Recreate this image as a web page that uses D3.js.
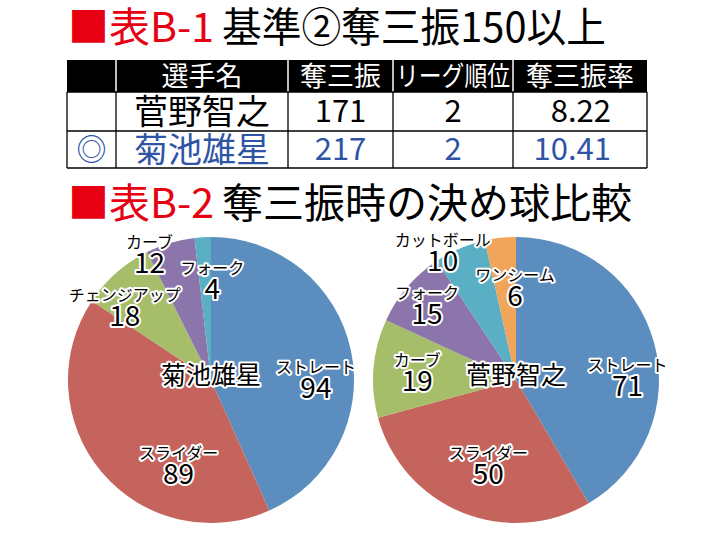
<!DOCTYPE html>
<html>
<head>
<meta charset="utf-8">
<script src="https://cdn.jsdelivr.net/npm/d3@7"></script>
<style>
	body { margin: 0; background: #fff; }
	svg { display: block; font-family: 'Noto Sans CJK JP', 'Noto Sans', sans-serif; }
	.halo { paint-order: stroke; stroke: #fff; stroke-width: 4px; stroke-linejoin: round; }
</style>
</head>
<body>
<div id="chart"></div>
<script>
// Table B-1
var tableHeaders = ['', '選手名', '奪三振', 'リーグ順位', '奪三振率'];
var playerMarks = ['', '◎'];
var playerNames = ['菅野智之', '菊池雄星'];
var strikeouts = [171, 217];
var leagueRanks = [2, 2];
var strikeoutRates = ['8.22', '10.41'];

// Table B-2: finishing pitch on strikeouts
var kikuchiPitches = ['ストレート', 'スライダー', 'チェンジアップ', 'カーブ', 'フォーク'];
var kikuchiCounts = [94, 89, 18, 12, 4];
var suganoPitches = ['ストレート', 'スライダー', 'カーブ', 'フォーク', 'カットボール', 'ワンシーム'];
var suganoCounts = [71, 50, 19, 15, 10, 6];

var palette = ['#5b8dbf', '#c5645d', '#a6bd69', '#8c75aa', '#5aafc5', '#f0a55b'];

var w = 720, h = 540;
var svg = d3.select('#chart').append('svg')
	.attr('width', w)
	.attr('height', h);

var drawTitle = function(y, label, rest, restWidth) {
	// Red square + red table number, then the black caption next to it.
	var red = svg.append('text')
		.attr('x', 68)
		.attr('y', y)
		.attr('font-size', 41)
		.attr('fill', '#e60012')
		.text('■' + label);
	var x = 68 + red.node().getComputedTextLength() + 8;
	svg.append('text')
		.attr('x', x)
		.attr('y', y)
		.attr('font-size', 41)
		.attr('fill', '#000')
		.attr('textLength', restWidth)
		.attr('lengthAdjust', 'spacingAndGlyphs')
		.text(rest);
};

drawTitle(42, '表B-1', '基準②奪三振150以上', 384);
drawTitle(218, '表B-2', '奪三振時の決め球比較', 410);

// ---- table ----
var colEdges = [67, 116, 288, 393, 513, 647];
var rowEdges = [60, 92, 131, 168];

svg.append('rect')
	.attr('x', colEdges[0])
	.attr('y', rowEdges[0])
	.attr('width', colEdges[5] - colEdges[0])
	.attr('height', rowEdges[1] - rowEdges[0])
	.attr('fill', '#000');

// vertical dividers: white in the header, black in the body
colEdges.slice(1, 5).forEach(function(x) {
	svg.append('line')
		.attr('x1', x).attr('x2', x)
		.attr('y1', rowEdges[0]).attr('y2', rowEdges[1])
		.attr('stroke', '#fff').attr('stroke-width', 1.5);
});
colEdges.forEach(function(x) {
	svg.append('line')
		.attr('x1', x).attr('x2', x)
		.attr('y1', rowEdges[1]).attr('y2', rowEdges[3])
		.attr('stroke', '#000').attr('stroke-width', 1.3);
});
rowEdges.slice(1).forEach(function(y) {
	svg.append('line')
		.attr('x1', colEdges[0]).attr('x2', colEdges[5])
		.attr('y1', y).attr('y2', y)
		.attr('stroke', '#000').attr('stroke-width', 1.3);
});

var colMid = function(i) { return (colEdges[i] + colEdges[i + 1]) / 2; };

tableHeaders.forEach(function(d, i) {
	if (!d) return;
	var t = svg.append('text')
		.attr('x', colMid(i))
		.attr('y', 86)
		.attr('text-anchor', 'middle')
		.attr('font-size', 27)
		.attr('fill', '#fff')
		.text(d);
	if (d === 'リーグ順位') {
		t.attr('textLength', 114).attr('lengthAdjust', 'spacingAndGlyphs');
	}
});

playerNames.forEach(function(name, r) {
	var y = r === 0 ? 124 : 162;
	var color = r === 0 ? '#000' : '#2f54a5';
	svg.append('text')
		.attr('x', colMid(0)).attr('y', y - 2)
		.attr('text-anchor', 'middle').attr('font-size', 30)
		.attr('fill', color).text(playerMarks[r]);
	svg.append('text')
		.attr('x', colMid(1)).attr('y', y)
		.attr('text-anchor', 'middle').attr('font-size', 34)
		.attr('fill', color).text(name);
	svg.append('text')
		.attr('x', colMid(2)).attr('y', y - 2)
		.attr('text-anchor', 'middle').attr('font-size', 31)
		.attr('fill', color).text(strikeouts[r]);
	svg.append('text')
		.attr('x', colMid(3)).attr('y', y - 2)
		.attr('text-anchor', 'middle').attr('font-size', 31)
		.attr('fill', color).text(leagueRanks[r]);
	svg.append('text')
		.attr('x', 611).attr('y', y - 2)
		.attr('text-anchor', 'end').attr('font-size', 31)
		.attr('fill', color).text(strikeoutRates[r]);
});

// ---- pies ----
var radius = 143;

var drawPie = function(cx, cy, pitches, counts, player, nudges) {
	var g = svg.append('g').attr('transform', 'translate(' + cx + ',' + cy + ')');
	var pie = d3.pie().sort(null).value(function(d) { return d; });
	var arcs = pie(counts);
	var arc = d3.arc().innerRadius(0).outerRadius(radius);
	var labelArc = d3.arc().innerRadius(radius * 0.7).outerRadius(radius * 0.7);

	g.selectAll('path')
		.data(arcs)
		.enter()
		.append('path')
		.attr('d', arc)
		.attr('fill', function(d, i) { return palette[i]; });

	g.append('text')
		.attr('class', 'halo')
		.attr('x', 0).attr('y', 4)
		.attr('text-anchor', 'middle')
		.attr('font-size', 25)
		.text(player);

	// Each label sits on the slice centroid, shifted the way the original placed it.
	arcs.forEach(function(d, i) {
		var c = labelArc.centroid(d);
		var x = c[0] + nudges[i][0];
		var y = c[1] + nudges[i][1];
		g.append('text')
			.attr('class', 'halo')
			.attr('x', x).attr('y', y)
			.attr('text-anchor', 'middle')
			.attr('font-size', 16)
			.text(pitches[i]);
		g.append('text')
			.attr('class', 'halo')
			.attr('x', x).attr('y', y + 25)
			.attr('text-anchor', 'middle')
			.attr('font-size', 28)
			.text(counts[i]);
	});
};

drawPie(211, 380, kikuchiPitches, kikuchiCounts, '菊池雄星',
	[[7, 14], [44, 14], [-20, -4], [-33, -36], [7, -6]]);
drawPie(516, 380, suganoPitches, suganoCounts, '菅野智之',
	[[15, 17], [10, -14], [1, -6], [-13, -16], [-34, -42], [10, 0]]);
</script>
</body>
</html>
